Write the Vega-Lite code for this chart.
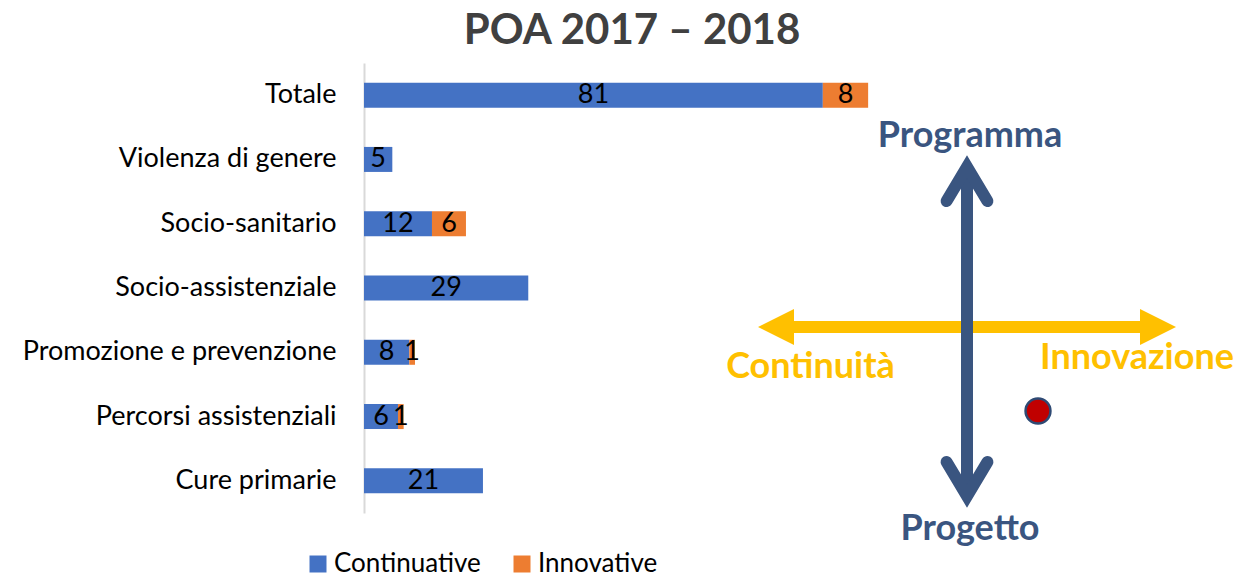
{
  "$schema": "https://vega.github.io/schema/vega-lite/v6.json",
  "width": 878,
  "height": 450,
  "autosize": {"type": "none"},
  "padding": {"left": 364, "top": 63, "right": 0, "bottom": 65},
  "background": "white",
  "config": {"view": {"stroke": null}, "font": "Lato"},
  "title": {
    "text": "POA 2017 – 2018",
    "fontSize": 42,
    "font": "Lato",
    "fontWeight": 700,
    "color": "#404040",
    "anchor": "middle",
    "frame": "group",
    "dx": -171,
    "offset": 10
  },
  "layer": [
    {
      "data": {
        "values": [
          {"categoria": "Totale", "tipo": "Continuative", "valore": 81},
          {"categoria": "Totale", "tipo": "Innovative", "valore": 8},
          {"categoria": "Violenza di genere", "tipo": "Continuative", "valore": 5},
          {"categoria": "Socio-sanitario", "tipo": "Continuative", "valore": 12},
          {"categoria": "Socio-sanitario", "tipo": "Innovative", "valore": 6},
          {"categoria": "Socio-assistenziale", "tipo": "Continuative", "valore": 29},
          {"categoria": "Promozione e prevenzione", "tipo": "Continuative", "valore": 8},
          {"categoria": "Promozione e prevenzione", "tipo": "Innovative", "valore": 1},
          {"categoria": "Percorsi assistenziali", "tipo": "Continuative", "valore": 6},
          {"categoria": "Percorsi assistenziali", "tipo": "Innovative", "valore": 1},
          {"categoria": "Cure primarie", "tipo": "Continuative", "valore": 21}
        ]
      },
      "encoding": {
        "y": {
          "field": "categoria",
          "type": "nominal",
          "sort": null,
          "scale": {"paddingInner": 0.611, "paddingOuter": 0.3055},
          "axis": {
            "title": null,
            "domain": true,
            "domainColor": "#D9D9D9",
            "domainWidth": 2,
            "ticks": false,
            "tickSize": 0,
            "labelPadding": 28,
            "labelFontSize": 27,
            "labelFont": "Lato",
            "labelColor": "#000000",
            "labelLimit": 400,
            "grid": false
          }
        }
      },
      "layer": [
        {
          "mark": {"type": "bar"},
          "encoding": {
            "x": {
              "field": "valore",
              "type": "quantitative",
              "stack": "zero",
              "scale": {"domain": [0, 155], "nice": false, "zero": true},
              "axis": null
            },
            "color": {
              "field": "tipo",
              "type": "nominal",
              "scale": {"domain": ["Continuative", "Innovative"], "range": ["#4472C4", "#ED7D31"]},
              "legend": {
                "title": null,
                "orient": "none",
                "legendX": -59,
                "legendY": 488,
                "direction": "horizontal",
                "symbolType": "square",
                "symbolSize": 289,
                "symbolStrokeWidth": 0,
                "symbolOpacity": 1,
                "labelFontSize": 26,
                "labelFont": "Lato",
                "labelColor": "#000000",
                "columnPadding": 28,
                "labelOffset": 3,
                "labelLimit": 300,
                "padding": 0
              }
            }
          }
        },
        {
          "transform": [
            {"stack": "valore", "groupby": ["categoria"], "sort": [{"field": "tipo", "order": "ascending"}], "as": ["v0", "v1"]},
            {"calculate": "(datum.v0 + datum.v1) / 2", "as": "centro"}
          ],
          "mark": {"type": "text", "fontSize": 27, "font": "Lato", "color": "#000000", "align": "center", "baseline": "middle"},
          "encoding": {
            "x": {"field": "centro", "type": "quantitative", "axis": null},
            "text": {"field": "valore", "type": "quantitative"}
          }
        }
      ]
    },
    {
      "encoding": {
        "x": {"field": "x", "type": "quantitative", "scale": {"domain": [-6.03, 2.75], "nice": false, "zero": false}, "axis": null},
        "y": {"field": "y", "type": "quantitative", "scale": {"domain": [-1.86, 2.64], "nice": false, "zero": false}, "axis": null}
      },
      "layer": [
        {
          "data": {"values": [{"x": -1.75, "x2": 1.75, "y": 0}]},
          "mark": {"type": "rule", "color": "#FFC000", "strokeWidth": 12},
          "encoding": {"x2": {"field": "x2"}}
        },
        {
          "data": {"values": [{"x": -2.09, "y": 0}]},
          "mark": {"type": "point", "shape": "M0,0L1,-0.5L1,0.5Z", "filled": true, "color": "#FFC000", "size": 5184, "opacity": 1, "strokeWidth": 0},
          "encoding": {}
        },
        {
          "data": {"values": [{"x": 2.09, "y": 0}]},
          "mark": {"type": "point", "shape": "M0,0L-1,-0.5L-1,0.5Z", "filled": true, "color": "#FFC000", "size": 5184, "opacity": 1, "strokeWidth": 0},
          "encoding": {}
        },
        {
          "data": {"values": [{"x": 0, "y": 1.6, "y2": -1.69}]},
          "mark": {"type": "rule", "color": "#3A5580", "strokeWidth": 12},
          "encoding": {"y2": {"field": "y2"}}
        },
        {
          "data": {"values": [{"x": 0, "y": 1.6}]},
          "mark": {"type": "point", "shape": "M-0.6,1L0,0L0.6,1", "filled": false, "color": "#3A5580", "size": 4624, "opacity": 1, "strokeWidth": 12, "strokeCap": "round", "strokeJoin": "miter", "strokeMiterLimit": 10},
          "encoding": {}
        },
        {
          "data": {"values": [{"x": 0, "y": -1.69}]},
          "mark": {"type": "point", "shape": "M-0.6,-1L0,0L0.6,-1", "filled": false, "color": "#3A5580", "size": 4624, "opacity": 1, "strokeWidth": 12, "strokeCap": "round", "strokeJoin": "miter", "strokeMiterLimit": 10},
          "encoding": {}
        },
        {
          "data": {"values": [{"x": 0.71, "y": -0.84}]},
          "mark": {"type": "circle", "fill": "#C00000", "stroke": "#2E4A74", "strokeWidth": 2.5, "size": 620, "opacity": 1},
          "encoding": {}
        },
        {
          "data": {"values": [{"x": 0.03, "y": 1.8, "label": "Programma"}, {"x": 0.03, "y": -2.13, "label": "Progetto"}]},
          "mark": {"type": "text", "font": "Lato", "fontWeight": 700, "fontSize": 36, "color": "#3A5580", "align": "center", "baseline": "alphabetic"},
          "encoding": {"text": {"field": "label", "type": "nominal"}}
        },
        {
          "data": {"values": [{"x": -1.565, "y": -0.51, "label": "Continuità"}, {"x": 1.7, "y": -0.42, "label": "Innovazione"}]},
          "mark": {"type": "text", "font": "Lato", "fontWeight": 700, "fontSize": 36, "color": "#FFC000", "align": "center", "baseline": "alphabetic"},
          "encoding": {"text": {"field": "label", "type": "nominal"}}
        }
      ]
    }
  ],
  "resolve": {"scale": {"x": "independent", "y": "independent"}}
}
